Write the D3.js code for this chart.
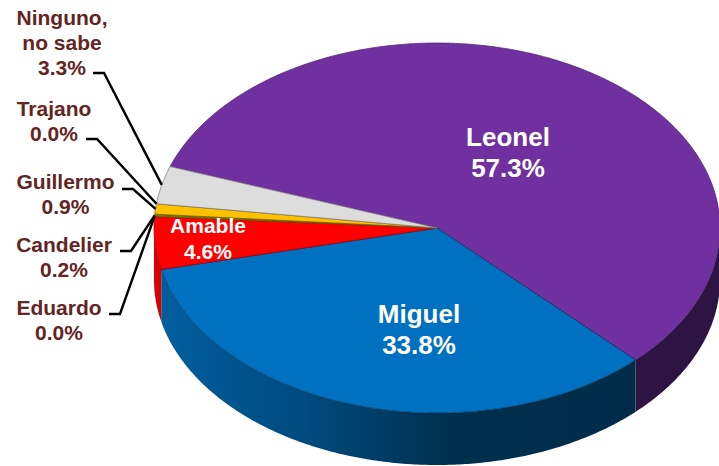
<!DOCTYPE html>
<html>
<head>
<meta charset="utf-8">
<script src="https://cdn.jsdelivr.net/npm/d3@7"></script>
<style>
  html, body { margin: 0; padding: 0; background: #fff; }
  svg { display: block; }
  text { font-family: "Liberation Sans", Arial, sans-serif; font-weight: bold; }
</style>
</head>
<body>
<svg id="chart" width="719" height="466"></svg>
<script>
// slice order runs clockwise starting from Leonel
const categories = ["Leonel", "Miguel", "Amable", "Eduardo", "Candelier", "Guillermo", "Trajano", "Ninguno, no sabe"];
const values = [57.3, 33.8, 4.6, 0.0, 0.2, 0.9, 0.0, 3.3];
const colors = ["#7030a0", "#0070c0", "#ff0000", "#7f7f7f", "#7a7a00", "#ffc000", "#c0c0c0", "#dddddd"];
const edgeColors = ["#4a2070", "#003052", "#8a0000", "#444444", "#555500", "#6b5500", "#666666", "#777777"];
const wallColors = ["#2e1442", "url(#blueWall)", "#d80000", "#444444", "#555500", "#806000", "#666666", "#777777"];

const svg = d3.select("#chart");

const cx = 437, cy = 228, rx = 283, ry = 185, depth = 52;
const startDeg = -70.6;

const xScale = d3.scaleLinear().domain([-1, 1]).range([cx - rx, cx + rx]);
const yScale = d3.scaleLinear().domain([-1, 1]).range([cy - ry, cy + ry]);

const pie = d3.pie().sort(null)
  .startAngle(startDeg * Math.PI / 180)
  .endAngle(startDeg * Math.PI / 180 + 2 * Math.PI);

const slices = pie(values).map((d, i) => ({ ...d, i }));

const line = d3.line().x((d) => d[0]).y((d) => d[1]);

// point on the top ellipse, angle clockwise from 12 o'clock
function rim(a, drop = 0) {
  return [xScale(Math.sin(a)), yScale(-Math.cos(a)) + drop];
}

function arcPoints(a0, a1, drop = 0) {
  const n = Math.max(2, Math.ceil((a1 - a0) / 0.01));
  return d3.range(n + 1).map((k) => rim(a0 + (a1 - a0) * k / n, drop));
}

const defs = svg.append("defs");
const grad = defs.append("linearGradient")
  .attr("id", "blueWall")
  .attr("gradientUnits", "userSpaceOnUse")
  .attr("x1", 160).attr("x2", 637).attr("y1", 0).attr("y2", 0);
grad.append("stop").attr("offset", "0%").attr("stop-color", "#005e9f");
grad.append("stop").attr("offset", "30%").attr("stop-color", "#004b80");
grad.append("stop").attr("offset", "60%").attr("stop-color", "#00304f");
grad.append("stop").attr("offset", "100%").attr("stop-color", "#002c48");

// side wall only shows on the front half of the pie (90deg to 270deg)
const frontStart = Math.PI / 2, frontEnd = 3 * Math.PI / 2;
const walls = [];
slices.forEach((d) => {
  [0, 2 * Math.PI].forEach((shift) => {
    const a0 = Math.max(d.startAngle + shift, frontStart);
    const a1 = Math.min(d.endAngle + shift, frontEnd);
    if (a1 > a0) walls.push({ a0, a1, i: d.i });
  });
});

svg.append("g").selectAll("path")
  .data(walls)
  .enter()
  .append("path")
  .attr("d", (d) => line(arcPoints(d.a0, d.a1).concat(arcPoints(d.a0, d.a1, depth).reverse())) + "Z")
  .attr("fill", (d) => wallColors[d.i]);

// top faces
svg.append("g").selectAll("path")
  .data(slices.filter((d) => d.value > 0))
  .enter()
  .append("path")
  .attr("d", (d) => line([[cx, cy]].concat(arcPoints(d.startAngle, d.endAngle))) + "Z")
  .attr("fill", (d) => colors[d.i])
  .attr("stroke", (d) => edgeColors[d.i])
  .attr("stroke-width", 0.7)
  .attr("stroke-linejoin", "round");

// leader lines from the outside labels
const leaders = [
  { i: 7, x: 93, y: 73 },
  { i: 6, x: 86, y: 139 },
  { i: 5, x: 122, y: 189 },
  { i: 4, x: 120, y: 251 },
  { i: 3, x: 109, y: 314 }
];

svg.append("g").selectAll("path")
  .data(leaders)
  .enter()
  .append("path")
  .attr("d", (d) => {
    const s = slices[d.i];
    return line([[d.x, d.y], [d.x + 11, d.y], rim((s.startAngle + s.endAngle) / 2)]);
  })
  .attr("fill", "none")
  .attr("stroke", "#000")
  .attr("stroke-width", 2.4);

const fmt = (v) => v.toFixed(1) + "%";

const labels = [
  { i: 0, lines: ["Leonel"], x: 508, y: 146, size: 26, fill: "#fff", step: 31 },
  { i: 1, lines: ["Miguel"], x: 419, y: 323, size: 26, fill: "#fff", step: 31 },
  { i: 2, lines: ["Amable"], x: 208, y: 233, size: 21, fill: "#fff", step: 26 },
  { i: 7, lines: ["Ninguno,", "no sabe"], x: 62, y: 25, size: 21, fill: "#632523", step: 25 },
  { i: 6, lines: ["Trajano"], x: 54, y: 116, size: 21, fill: "#632523", step: 25 },
  { i: 5, lines: ["Guillermo"], x: 65.5, y: 189, size: 21, fill: "#632523", step: 25 },
  { i: 4, lines: ["Candelier"], x: 64, y: 252, size: 21, fill: "#632523", step: 25 },
  { i: 3, lines: ["Eduardo"], x: 59, y: 315, size: 21, fill: "#632523", step: 25 }
];

labels.forEach((l) => {
  const rows = l.lines.concat(fmt(values[l.i]));
  svg.append("g").selectAll("text")
    .data(rows)
    .enter()
    .append("text")
    .attr("x", l.x)
    .attr("y", (d, k) => l.y + k * l.step)
    .attr("text-anchor", "middle")
    .attr("fill", l.fill)
    .style("font-size", l.size + "px")
    .text((d) => d);
});
</script>
</body>
</html>
